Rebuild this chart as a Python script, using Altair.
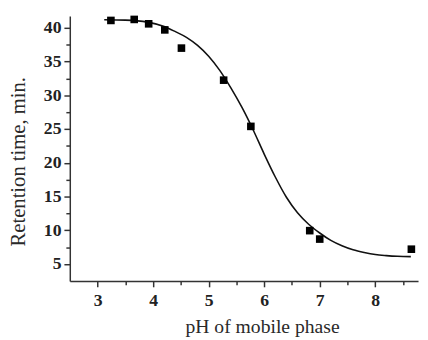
import altair as alt
import pandas as pd

# measured points
ph_points = [3.24, 3.66, 3.92, 4.21, 4.51, 5.27, 5.76, 6.82, 7.00, 8.65]
rt_points = [41.1, 41.25, 40.6, 39.7, 37.0, 32.25, 25.4, 9.95, 8.7, 7.2]

# fitted curve
ph_curve = [3.12, 3.5, 3.9, 4.2, 4.41, 4.6, 4.8, 5.0, 5.2, 5.4, 5.6, 5.8, 6.0,
            6.2, 6.4, 6.6, 6.8, 7.0, 7.2, 7.4, 7.6, 7.8, 8.0, 8.2, 8.4, 8.64]
rt_curve = [41.2, 41.15, 40.85, 40.2, 39.4, 38.6, 37.4, 35.8, 33.7, 31.1, 28.2,
            24.9, 21.3, 17.9, 14.9, 12.6, 10.9, 9.6, 8.5, 7.7, 7.1, 6.7, 6.4,
            6.25, 6.15, 6.1]

x_ticks = [3, 3.5, 4, 4.5, 5, 5.5, 6, 6.5, 7, 7.5, 8, 8.5]
y_ticks = [5, 7.5, 10, 12.5, 15, 17.5, 20, 22.5, 25, 27.5, 30, 32.5, 35, 37.5, 40]

pts = pd.DataFrame({"pH": ph_points, "rt": rt_points})
curve = pd.DataFrame({"pH": ph_curve, "rt": rt_curve})

xscale = alt.Scale(domain=[2.5, 8.77], nice=False, zero=False)
yscale = alt.Scale(domain=[2.5, 41.75], nice=False, zero=False)

common_axis = dict(
    grid=False,
    domainColor="#333333",
    domainWidth=1.5,
    tickColor="#333333",
    tickWidth=1.5,
    labelFont="Liberation Serif",
    labelFontWeight="bold",
    labelFontSize=18,
    labelColor="#222222",
    labelOverlap=False,
    labelBound=False,
    labelFlush=False,
    titleFont="Liberation Serif",
    titleFontWeight="normal",
    titleColor="#2a2a2a",
    labelExpr="datum.value % 1 === 0 ? format(datum.value, 'd') : ''",
    tickSize={"condition": {"test": "datum.value % 1 === 0", "value": 6}, "value": 4},
)

xaxis = alt.Axis(title="pH of mobile phase", values=x_ticks, labelPadding=5,
                 titlePadding=8, titleFontSize=20, titleX=196, **common_axis)
yaxis = alt.Axis(title="Retention time, min.", values=y_ticks, labelPadding=3,
                 titlePadding=15, titleFontSize=21, titleY=148, **common_axis)

line = alt.Chart(curve).mark_line(color="#111111", strokeWidth=1.6,
                                  interpolate="monotone").encode(
    x=alt.X("pH:Q", scale=xscale, axis=xaxis),
    y=alt.Y("rt:Q", scale=yscale, axis=yaxis),
)

squares = alt.Chart(pts).mark_square(size=60, color="black", opacity=1,
                                     clip=False).encode(
    x=alt.X("pH:Q", scale=xscale, axis=xaxis),
    y=alt.Y("rt:Q", scale=yscale, axis=yaxis),
)

chart = alt.layer(line, squares).properties(
    width=355,
    height=270,
    autosize="none",
    padding={"left": 63, "top": 5, "right": 2, "bottom": 56},
).configure_view(stroke=None).configure_axis(labelOverlap=False)

chart.save("out.html", embed_options={"renderer": "svg", "actions": False})
